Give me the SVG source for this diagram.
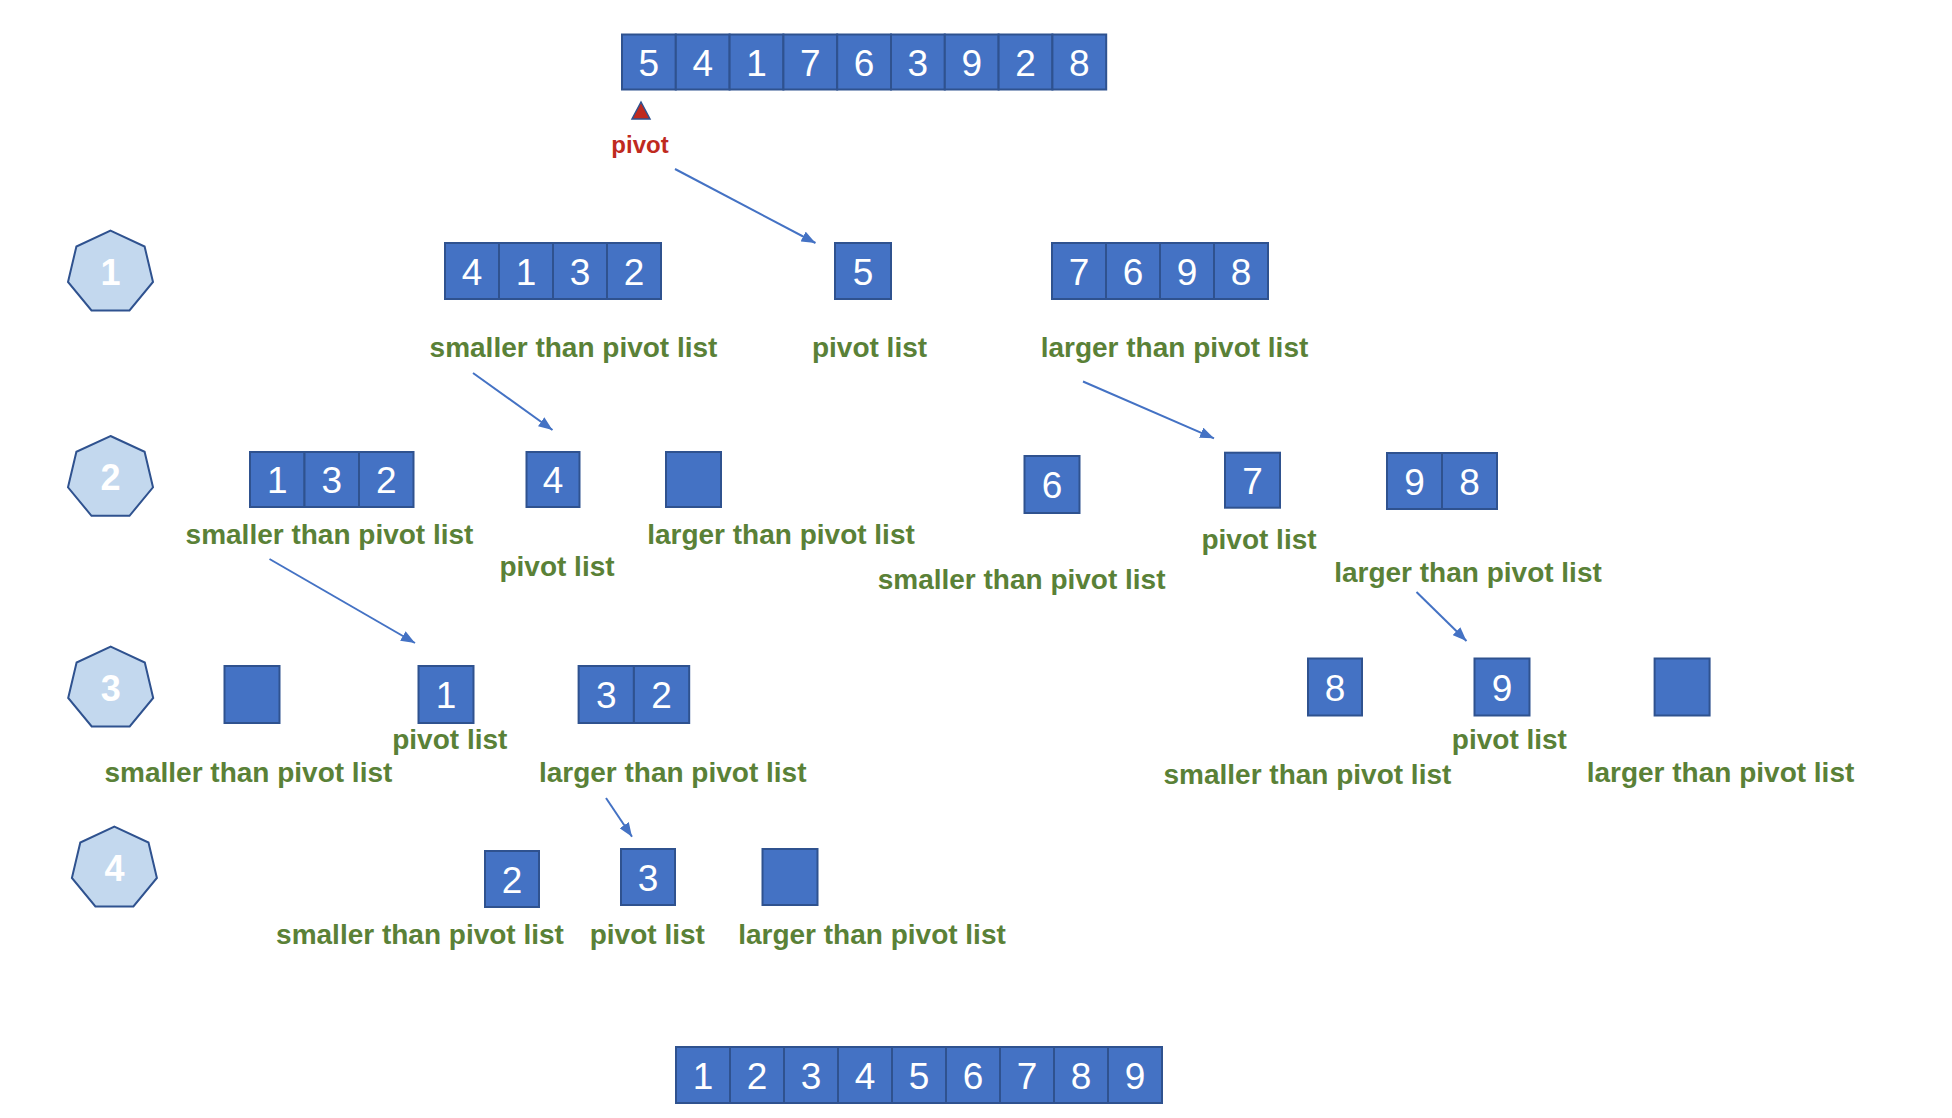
<svg xmlns="http://www.w3.org/2000/svg" xmlns:xlink="http://www.w3.org/1999/xlink" width="1952" height="1118" viewBox="0 0 1952 1118">
<style>
.cell{fill:#4472C4;stroke:#2F528F;stroke-width:2}
.num{fill:#fff;font-family:"Liberation Sans",Arial,sans-serif;font-size:37px;text-anchor:middle}
.lbl{fill:#5A8137;font-family:"Liberation Sans",Arial,sans-serif;font-weight:bold;font-size:28px;text-anchor:middle}
.hept{fill:#C3D8EE;stroke:#2F528F;stroke-width:2}
.hnum{fill:#fff;font-family:"Liberation Sans",Arial,sans-serif;font-weight:bold;font-size:36px;text-anchor:middle}
.conn{stroke:#4472C4;stroke-width:2;fill:none;marker-end:url(#ah)}
.pivot{fill:#BF2A1F;font-family:"Liberation Sans",Arial,sans-serif;font-weight:bold;font-size:24px;text-anchor:middle}
</style>
<defs>
<polygon id="hp" class="hept" points="0,-42 34.1,-26.2 42.5,9.3 19,37.8 -19,37.8 -42.5,9.3 -34.1,-26.2"/>
<marker id="ah" markerUnits="userSpaceOnUse" markerWidth="14" markerHeight="11" refX="14" refY="5.5" orient="auto">
<path d="M0,0 L14,5.5 L0,11 z" fill="#4472C4"/>
</marker>
</defs>
<rect width="1952" height="1118" fill="#fff"/>

<!-- step heptagons -->
<g id="step1"><use xlink:href="#hp" x="110.5" y="272.7"/><text class="hnum" x="110.5" y="285">1</text></g>
<g id="step2"><use xlink:href="#hp" x="110.5" y="478"/><text class="hnum" x="110.5" y="490">2</text></g>
<g id="step3"><use xlink:href="#hp" x="110.7" y="688.7"/><text class="hnum" x="110.7" y="701">3</text></g>
<g id="step4"><use xlink:href="#hp" x="114.4" y="868.7"/><text class="hnum" x="114.4" y="881">4</text></g>

<!-- top array -->
<g id="top-array">
<rect class="cell" x="622" y="34.5" width="53.8" height="55"/>
<rect class="cell" x="675.8" y="34.5" width="53.8" height="55"/>
<rect class="cell" x="729.6" y="34.5" width="53.8" height="55"/>
<rect class="cell" x="783.4" y="34.5" width="53.8" height="55"/>
<rect class="cell" x="837.2" y="34.5" width="53.8" height="55"/>
<rect class="cell" x="891" y="34.5" width="53.8" height="55"/>
<rect class="cell" x="944.8" y="34.5" width="53.8" height="55"/>
<rect class="cell" x="998.6" y="34.5" width="53.8" height="55"/>
<rect class="cell" x="1052.4" y="34.5" width="53.8" height="55"/>
<text class="num" x="648.9" y="75.5">5</text>
<text class="num" x="702.7" y="75.5">4</text>
<text class="num" x="756.5" y="75.5">1</text>
<text class="num" x="810.3" y="75.5">7</text>
<text class="num" x="864.1" y="75.5">6</text>
<text class="num" x="917.9" y="75.5">3</text>
<text class="num" x="971.7" y="75.5">9</text>
<text class="num" x="1025.5" y="75.5">2</text>
<text class="num" x="1079.3" y="75.5">8</text>
</g>
<g id="pivot-marker">
<polygon points="641,102 650,119 632,119" fill="#BF2A1F" stroke="#2F528F" stroke-width="1.5"/>
<text class="pivot" x="640" y="153">pivot</text>
</g>

<!-- level 1 -->
<g id="l1-smaller">
<rect class="cell" x="445" y="243" width="54" height="56"/>
<rect class="cell" x="499" y="243" width="54" height="56"/>
<rect class="cell" x="553" y="243" width="54" height="56"/>
<rect class="cell" x="607" y="243" width="54" height="56"/>
<text class="num" x="472" y="284.5">4</text>
<text class="num" x="526" y="284.5">1</text>
<text class="num" x="580" y="284.5">3</text>
<text class="num" x="634" y="284.5">2</text>
<text class="lbl" x="573.5" y="357">smaller than pivot list</text>
</g>
<g id="l1-pivot">
<rect class="cell" x="835" y="243" width="56" height="56"/>
<text class="num" x="863" y="284.5">5</text>
<text class="lbl" x="869.5" y="357">pivot list</text>
</g>
<g id="l1-larger">
<rect class="cell" x="1052" y="243" width="54" height="56"/>
<rect class="cell" x="1106" y="243" width="54" height="56"/>
<rect class="cell" x="1160" y="243" width="54" height="56"/>
<rect class="cell" x="1214" y="243" width="54" height="56"/>
<text class="num" x="1079" y="284.5">7</text>
<text class="num" x="1133" y="284.5">6</text>
<text class="num" x="1187" y="284.5">9</text>
<text class="num" x="1241" y="284.5">8</text>
<text class="lbl" x="1174.5" y="357">larger than pivot list</text>
</g>

<!-- level 2 left -->
<g id="l2a-smaller">
<rect class="cell" x="250" y="452" width="54.5" height="55"/>
<rect class="cell" x="304.5" y="452" width="54.5" height="55"/>
<rect class="cell" x="359" y="452" width="54.5" height="55"/>
<text class="num" x="277.2" y="493">1</text>
<text class="num" x="331.7" y="493">3</text>
<text class="num" x="386.2" y="493">2</text>
<text class="lbl" x="329.5" y="544">smaller than pivot list</text>
</g>
<g id="l2a-pivot">
<rect class="cell" x="526.5" y="452" width="53" height="55"/>
<text class="num" x="553" y="493">4</text>
<text class="lbl" x="557" y="576">pivot list</text>
</g>
<g id="l2a-larger">
<rect class="cell" x="666" y="452" width="55" height="55"/>
<text class="lbl" x="781" y="544">larger than pivot list</text>
</g>

<!-- level 2 right -->
<g id="l2b-smaller">
<rect class="cell" x="1024.5" y="456" width="55" height="57"/>
<text class="num" x="1052" y="498">6</text>
<text class="lbl" x="1021.6" y="589">smaller than pivot list</text>
</g>
<g id="l2b-pivot">
<rect class="cell" x="1225" y="452.7" width="55" height="55"/>
<text class="num" x="1252.5" y="493.5">7</text>
<text class="lbl" x="1259" y="549">pivot list</text>
</g>
<g id="l2b-larger">
<rect class="cell" x="1387" y="453" width="55" height="56"/>
<rect class="cell" x="1442" y="453" width="55" height="56"/>
<text class="num" x="1414.5" y="494.5">9</text>
<text class="num" x="1469.5" y="494.5">8</text>
<text class="lbl" x="1468" y="582">larger than pivot list</text>
</g>

<!-- level 3 left -->
<g id="l3a-smaller">
<rect class="cell" x="224.5" y="666" width="55" height="57"/>
<text class="lbl" x="248.4" y="782">smaller than pivot list</text>
</g>
<g id="l3a-pivot">
<rect class="cell" x="418.5" y="666" width="55" height="57"/>
<text class="num" x="446" y="708">1</text>
<text class="lbl" x="449.8" y="749">pivot list</text>
</g>
<g id="l3a-larger">
<rect class="cell" x="578.6" y="666" width="55.3" height="57"/>
<rect class="cell" x="633.9" y="666" width="55.3" height="57"/>
<text class="num" x="606.2" y="708">3</text>
<text class="num" x="661.5" y="708">2</text>
<text class="lbl" x="672.7" y="782">larger than pivot list</text>
</g>

<!-- level 3 right -->
<g id="l3b-smaller">
<rect class="cell" x="1308" y="658.5" width="54" height="57"/>
<text class="num" x="1335" y="700.5">8</text>
<text class="lbl" x="1307.4" y="784">smaller than pivot list</text>
</g>
<g id="l3b-pivot">
<rect class="cell" x="1474.5" y="658.5" width="55" height="57"/>
<text class="num" x="1502" y="700.5">9</text>
<text class="lbl" x="1509.4" y="749">pivot list</text>
</g>
<g id="l3b-larger">
<rect class="cell" x="1654.6" y="658.5" width="55" height="57"/>
<text class="lbl" x="1720.5" y="782">larger than pivot list</text>
</g>

<!-- level 4 -->
<g id="l4-smaller">
<rect class="cell" x="485" y="851" width="54" height="56"/>
<text class="num" x="512" y="892.5">2</text>
<text class="lbl" x="420" y="944">smaller than pivot list</text>
</g>
<g id="l4-pivot">
<rect class="cell" x="621" y="849" width="54" height="56"/>
<text class="num" x="648" y="890.5">3</text>
<text class="lbl" x="647.3" y="944">pivot list</text>
</g>
<g id="l4-larger">
<rect class="cell" x="762.5" y="849" width="55" height="56"/>
<text class="lbl" x="872" y="944">larger than pivot list</text>
</g>

<!-- sorted result -->
<g id="result-array">
<rect class="cell" x="676" y="1047" width="54" height="56"/>
<rect class="cell" x="730" y="1047" width="54" height="56"/>
<rect class="cell" x="784" y="1047" width="54" height="56"/>
<rect class="cell" x="838" y="1047" width="54" height="56"/>
<rect class="cell" x="892" y="1047" width="54" height="56"/>
<rect class="cell" x="946" y="1047" width="54" height="56"/>
<rect class="cell" x="1000" y="1047" width="54" height="56"/>
<rect class="cell" x="1054" y="1047" width="54" height="56"/>
<rect class="cell" x="1108" y="1047" width="54" height="56"/>
<text class="num" x="703" y="1088.5">1</text>
<text class="num" x="757" y="1088.5">2</text>
<text class="num" x="811" y="1088.5">3</text>
<text class="num" x="865" y="1088.5">4</text>
<text class="num" x="919" y="1088.5">5</text>
<text class="num" x="973" y="1088.5">6</text>
<text class="num" x="1027" y="1088.5">7</text>
<text class="num" x="1081" y="1088.5">8</text>
<text class="num" x="1135" y="1088.5">9</text>
</g>

<!-- connectors -->
<g id="connectors">
<line class="conn" x1="675" y1="169" x2="815.5" y2="243"/>
<line class="conn" x1="473" y1="373" x2="552.5" y2="430"/>
<line class="conn" x1="1083" y1="381.5" x2="1214" y2="438.3"/>
<line class="conn" x1="269.5" y1="559" x2="415" y2="643"/>
<line class="conn" x1="1416.5" y1="592" x2="1466.5" y2="641"/>
<line class="conn" x1="606" y1="798" x2="632" y2="836.7"/>
</g>
</svg>
